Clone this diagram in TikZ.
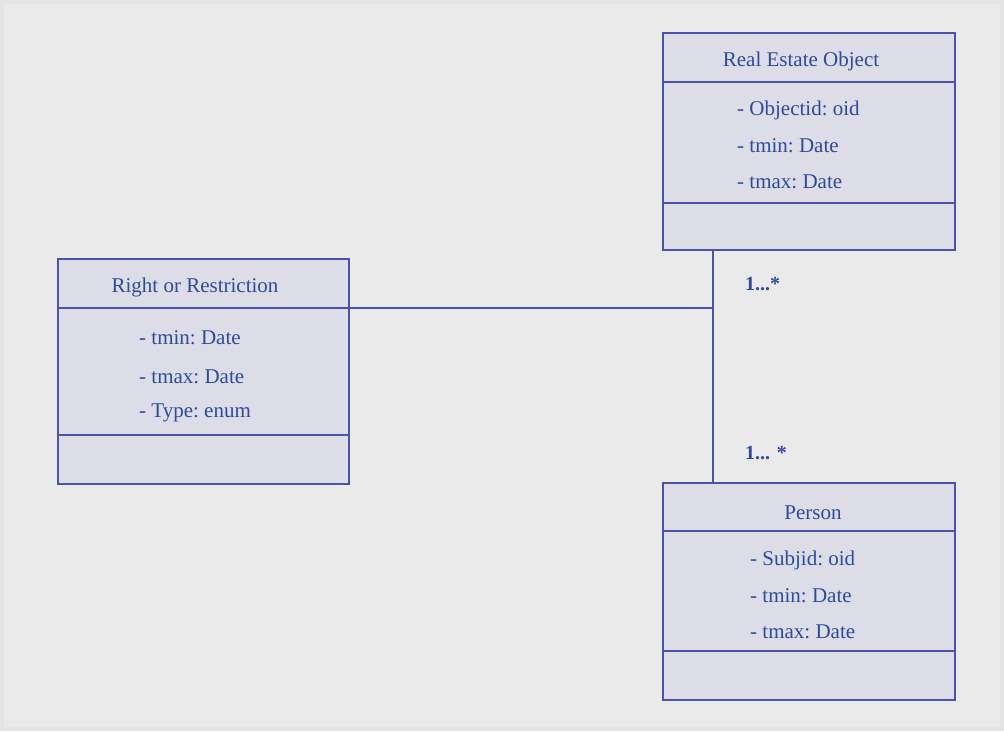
\documentclass[tikz,border=0pt]{standalone}
\usepackage{fontspec}
\setmainfont{Liberation Serif}
\usetikzlibrary{calc}
\definecolor{umlline}{RGB}{74,82,174}
\definecolor{umltext}{RGB}{44,74,160}
\definecolor{umlfill}{RGB}{220,221,230}
\definecolor{paper}{RGB}{234,234,234}
\definecolor{paperedge}{RGB}{228,228,228}
\tikzset{x=1pt, y=-1pt,
        classbox/.style={ % Sets the properties for each class
            draw=umlline, fill=umlfill,
            line width=2.6pt,
            minimum width=292pt,
            inner sep=0pt},
        classname/.style={
            anchor=base, inner sep=0pt, yshift=-7pt,
            text=umltext,
            font=\fontsize{21}{25}\selectfont\frenchspacing},
        attr/.style={ % Attributes, left aligned
            anchor=base west, inner sep=0pt, yshift=-7pt,
            text=umltext,
            font=\fontsize{21}{25}\selectfont\frenchspacing},
        mult/.style={
            anchor=base west, inner sep=0pt, yshift=-7pt,
            text=umltext,
            font=\fontsize{20}{24}\selectfont\bfseries},
        assoc/.style={ % Sets the properties for each line
            draw=umlline,
            line width=2.6pt}
        }

\begin{document}
\begin{tikzpicture}
    % background
    \fill[paperedge] (0,0) rectangle (1004,731);
    \fill[paper] (4,4) rectangle (1000,727);

    % classes
    \node[classbox, minimum height=217pt] (reo) at (809,141.5) {};
    \node[classbox, minimum width=291pt, minimum height=225pt] (rr) at (203.5,371.5) {};
    \node[classbox, minimum height=217pt] (per) at (809,591.5) {};

    \draw[assoc] (reo.west |- 0,82) -- (reo.east |- 0,82);
    \draw[assoc] (reo.west |- 0,203) -- (reo.east |- 0,203);
    \draw[assoc] (rr.west |- 0,308) -- (rr.east |- 0,308);
    \draw[assoc] (rr.west |- 0,435) -- (rr.east |- 0,435);
    \draw[assoc] (per.west |- 0,531) -- (per.east |- 0,531);
    \draw[assoc] (per.west |- 0,651) -- (per.east |- 0,651);

    \node[classname] (reoname) at (801,59)  {Real Estate Object};
    \node[classname] (rrname)  at (195,285) {Right or Restriction};
    \node[classname] (pername) at (813,512) {Person};

    \node[attr] (reoa) at (737,108) {- Objectid: oid};
    \node[attr] (reob) at (737,145) {- tmin: Date};
    \node[attr] (reoc) at (737,181) {- tmax: Date};

    \node[attr] (rra) at (139,337) {- tmin: Date};
    \node[attr] (rrb) at (139,376) {- tmax: Date};
    \node[attr] (rrc) at (139,410) {- Type: enum};

    \node[attr] (pera) at (750,558) {- Subjid: oid};
    \node[attr] (perb) at (750,595) {- tmin: Date};
    \node[attr] (perc) at (750,631) {- tmax: Date};

    % association
    \coordinate (j) at (713,308);
    \draw[assoc] (reo.south -| j) -- (per.north -| j);
    \draw[assoc] (rr.east |- j) -- (j);

    \node[mult] (m1) at (745,283) {1...*};
    \node[mult] (m2) at (745,452) {1... *};
\end{tikzpicture}
\end{document}
